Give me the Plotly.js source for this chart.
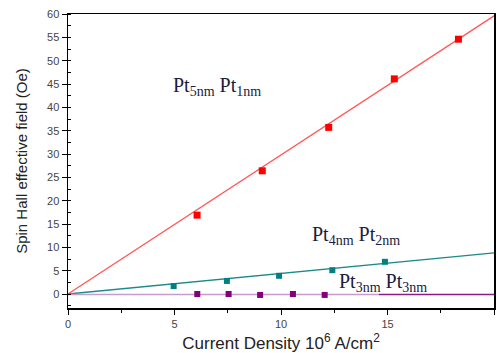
<!DOCTYPE html>
<html>
<head>
<meta charset="utf-8">
<script src="https://cdn.plot.ly/plotly-3.0.1.min.js"></script>
<style>html,body{margin:0;padding:0;background:#fff;}#chart{width:497px;height:353px;}</style>
</head>
<body>
<div id="chart"></div>
<script>
// Pt5nm Pt1nm (red)
const redX = [6.06, 9.12, 12.24, 15.32, 18.33];
const redY = [16.9, 26.4, 35.7, 46.1, 54.6];
const redFitX = [0, 20];
const redFitY = [0, 59.6];
// Pt4nm Pt2nm (teal)
const tealX = [4.96, 7.46, 9.91, 12.41, 14.88];
const tealY = [1.7, 2.8, 3.9, 5.1, 6.9];
const tealFitX = [0, 20];
const tealFitY = [0, 8.8];
// Pt3nm Pt3nm (purple)
const purpX = [6.07, 7.54, 9.02, 10.56, 12.05];
const purpY = [0, 0, -0.2, 0, -0.2];
const purpFitX1 = [0, 14.6];
const purpFitY1 = [-0.1, -0.1];
const purpFitX2 = [14.6, 20];
const purpFitY2 = [-0.1, -0.1];
// axis ticks
const xTicks = [0, 5, 10, 15, 20];
const yTicks = [0, 5, 10, 15, 20, 25, 30, 35, 40, 45, 50, 55, 60];

const traces = [
  {x: redFitX, y: redFitY, mode: 'lines', line: {color: '#ff5a5a', width: 1.3}, hoverinfo: 'skip'},
  {x: tealFitX, y: tealFitY, mode: 'lines', line: {color: '#1a8a8a', width: 1.3}, hoverinfo: 'skip'},
  {x: purpFitX1, y: purpFitY1, mode: 'lines', line: {color: '#c89cc8', width: 1.5}, hoverinfo: 'skip'},
  {x: purpFitX2, y: purpFitY2, mode: 'lines', line: {color: '#8a1a8a', width: 1.5}, hoverinfo: 'skip'},
  {x: redX, y: redY, mode: 'markers', marker: {symbol: 'square', size: 7, color: '#ff0000'}},
  {x: tealX, y: tealY, mode: 'markers', marker: {symbol: 'square', size: 6, color: '#008080'}},
  {x: purpX, y: purpY, mode: 'markers', marker: {symbol: 'square', size: 6, color: '#800080'}}
];

const annFont = {family: 'Liberation Serif, Times New Roman, serif', size: 20, color: '#1c1c3c'};
const layout = {
  width: 497, height: 353,
  margin: {l: 68, r: 3, t: 14, b: 45},
  paper_bgcolor: '#fff', plot_bgcolor: '#fff',
  showlegend: false,
  xaxis: {
    range: [0, 20], tickvals: xTicks, ticktext: xTicks.map(String),
    showgrid: false, zeroline: false,
    showline: true, linecolor: '#000', linewidth: 1.5, mirror: true,
    ticks: 'outside', ticklen: 5, tickwidth: 1, tickcolor: '#000',
    minor: {dtick: 2.5, tick0: 0, ticks: 'outside', ticklen: 3, tickcolor: '#000', showgrid: false},
    tickfont: {family: 'Arial, Liberation Sans, sans-serif', size: 11, color: '#444'},
    title: {text: 'Current Density 10<sup>6</sup> A/cm<sup>2</sup>', standoff: 11,
            font: {family: 'Arial, Liberation Sans, sans-serif', size: 17, color: '#222'}},
    automargin: false
  },
  yaxis: {
    range: [-3, 60], tickvals: yTicks, ticktext: yTicks.map(String),
    showgrid: false, zeroline: false,
    showline: true, linecolor: '#000', linewidth: 1.5, mirror: true,
    ticks: 'outside', ticklen: 5, tickwidth: 1, tickcolor: '#000',
    minor: {dtick: 2.5, tick0: 0, ticks: 'inside', ticklen: 3, tickcolor: '#000', showgrid: false},
    tickfont: {family: 'Arial, Liberation Sans, sans-serif', size: 11, color: '#444'},
    title: {text: 'Spin Hall effective field (Oe)', standoff: 16,
            font: {family: 'Arial, Liberation Sans, sans-serif', size: 15, color: '#222'}},
    automargin: false
  },
  annotations: [
    {x: 7.0, y: 44.4, xref: 'x', yref: 'y', text: 'Pt<sub>5nm</sub> Pt<sub>1nm</sub>', showarrow: false, font: annFont},
    {x: 13.5, y: 12.6, xref: 'x', yref: 'y', text: 'Pt<sub>4nm</sub> Pt<sub>2nm</sub>', showarrow: false, font: annFont},
    {x: 14.8, y: 2.4, xref: 'x', yref: 'y', text: 'Pt<sub>3nm</sub> Pt<sub>3nm</sub>', showarrow: false, font: annFont}
  ]
};

Plotly.newPlot('chart', traces, layout, {displayModeBar: false, staticPlot: true});
</script>
</body>
</html>
